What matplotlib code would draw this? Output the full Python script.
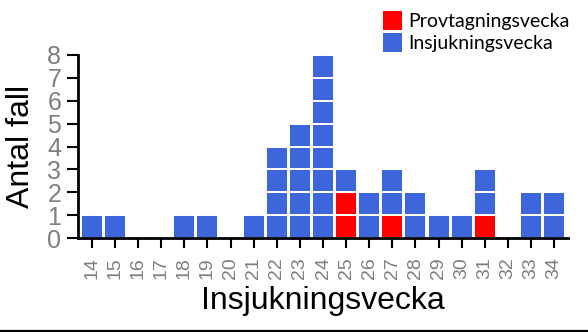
import matplotlib
matplotlib.use("Agg")
import matplotlib.pyplot as plt
from matplotlib.patches import Rectangle
from matplotlib.lines import Line2D

weeks = list(range(14, 35))
total_cases = [1, 1, 0, 0, 1, 1, 0, 1, 4, 5, 8, 3, 2, 3, 2, 1, 1, 3, 0, 2, 2]
sample_cases = [0, 0, 0, 0, 0, 0, 0, 0, 0, 0, 0, 2, 0, 1, 0, 0, 0, 1, 0, 0, 0]
y_ticks = [0, 1, 2, 3, 4, 5, 6, 7, 8]

blue = "#3D66DB"
red = "#FF0000"
grey = "#7F7F7F"
narrow = ["Liberation Sans Narrow", "Liberation Sans", "DejaVu Sans"]
sans = ["Liberation Sans", "DejaVu Sans"]

fig = plt.figure(figsize=(5.88, 3.32), dpi=100)
ax = fig.add_axes([78 / 588, (332 - 238) / 332, 490 / 588, 183 / 332])

# one square per case: red (sampling week) at the bottom, blue on top
for w, tot, red_n in zip(weeks, total_cases, sample_cases):
    for k in range(tot):
        color = red if k < red_n else blue
        ax.bar(w, 1, bottom=k, width=0.95, color=color,
               edgecolor="white", linewidth=1.4, zorder=1)

ax.set_xlim(13.4, 34.6)
ax.set_ylim(0, 8)
ax.set_xticks(weeks)
ax.set_xticklabels([str(w) for w in weeks], rotation=90, color=grey,
                   fontsize=14, family=sans)
ax.set_yticks(y_ticks)
ax.set_yticklabels([str(v) for v in y_ticks], color=grey, fontsize=18,
                   family=narrow)
ax.tick_params(axis="x", length=7, width=1.5, pad=7)
ax.tick_params(axis="y", length=8, width=1.5, pad=4)

for s in ["top", "right"]:
    ax.spines[s].set_visible(False)
for s in ["left", "bottom"]:
    ax.spines[s].set_linewidth(2)
    ax.spines[s].set_color("black")

ax.set_ylabel("Antal fall", fontsize=23, family=sans, labelpad=8)
ax.set_xlabel("Insjukningsvecka", fontsize=23, family=sans, labelpad=5)

# legend drawn by hand at top right
leg_items = [("Provtagningsvecka", red, 11), ("Insjukningsvecka", blue, 33)]
for label, color, top in leg_items:
    fig.patches.append(Rectangle((383 / 588, 1 - (top + 19) / 332), 19 / 588, 19 / 332,
                                 transform=fig.transFigure, facecolor=color,
                                 edgecolor="none"))
    fig.text(408 / 588, 1 - (top + 10) / 332, label, fontsize=14, family="Lato",
             va="center", ha="left", color="black")

fig.lines.append(Line2D([0, 1], [1.5 / 332, 1.5 / 332], transform=fig.transFigure,
                        color="black", linewidth=1.6))

fig.savefig("out.png", dpi=100)
